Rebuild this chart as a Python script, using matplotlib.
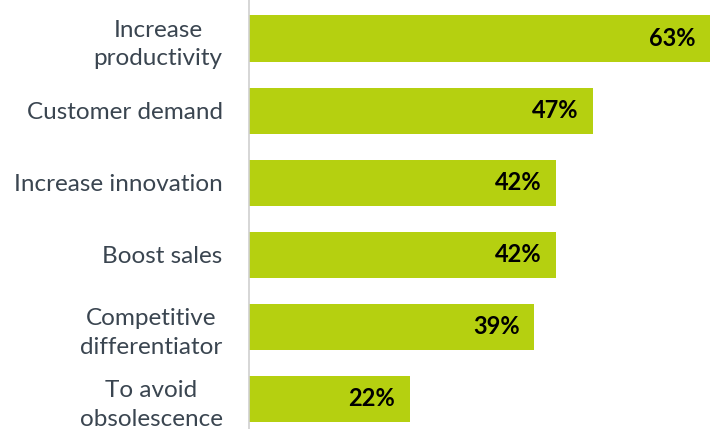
import matplotlib
matplotlib.use("Agg")
import matplotlib.pyplot as plt

categories = [
    "Increase\nproductivity",
    "Customer demand",
    "Increase innovation",
    "Boost sales",
    "Competitive\ndifferentiator",
    "To avoid\nobsolescence",
]
values = [63, 47, 42, 42, 39, 22]
value_labels = ["63%", "47%", "42%", "42%", "39%", "22%"]

bar_color = "#B5D010"
label_color = "#3A4550"

plt.rcParams["font.family"] = ["Lato", "DejaVu Sans"]

W, H = 717, 429
fig = plt.figure(figsize=(W / 100, H / 100), dpi=100)
ax = fig.add_axes([249 / W, 0, (710 - 249) / W, 1])

pos = list(range(len(categories)))
ax.barh(pos, values, height=0.64, color=bar_color, left=0)
ax.set_xlim(0, 63)
ax.set_ylim(5 + (H - 399) / 72, -38.5 / 72)

for p, v, lab in zip(pos, values, value_labels):
    ax.text(v - 2.0, p, lab, ha="right", va="center", fontsize=17,
            fontweight="bold", color="black")

ax.set_yticks(pos)
ax.set_yticklabels(categories, fontsize=17.5, color=label_color,
                   multialignment="center", linespacing=1.45)
ax.tick_params(axis="y", length=0, pad=19)
ax.tick_params(axis="x", bottom=False, labelbottom=False)
for s in ["top", "right", "bottom"]:
    ax.spines[s].set_visible(False)
ax.spines["left"].set_color("#D0D0D0")
ax.spines["left"].set_linewidth(1.2)

fig.savefig("out.png", dpi=100)
